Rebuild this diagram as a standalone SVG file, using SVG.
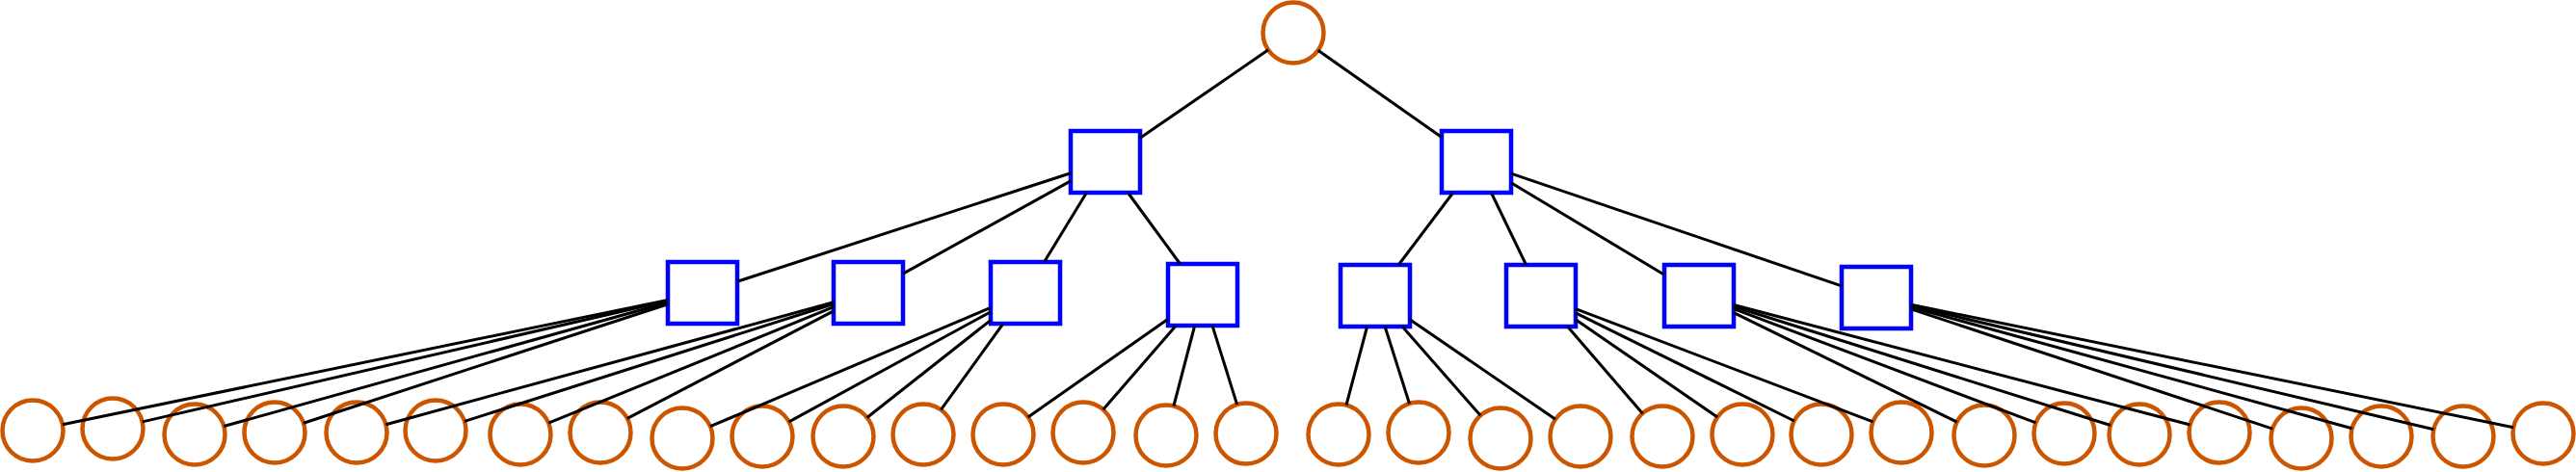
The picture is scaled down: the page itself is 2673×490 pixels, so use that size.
<svg xmlns="http://www.w3.org/2000/svg" width="2673" height="490" viewBox="0 0 2673 490">
<style>
.e{stroke:#000;stroke-width:3;fill:none}
.c{fill:#fff;stroke:#cc5500;stroke-width:4.5}
.s{fill:#fff;stroke:#0000ff;stroke-width:4.5}
</style>
<rect x="0" y="0" width="2673" height="490" fill="#fff"/>
<g id="root"><circle class="c" cx="1342" cy="34" r="31.5"/></g>
<g id="n1"><rect class="s" x="1111" y="136" width="72" height="64"/></g>
<g id="n2"><rect class="s" x="1496" y="136" width="72" height="64"/></g>
<g id="n1a"><rect class="s" x="693" y="272" width="72" height="64"/></g>
<g id="n1b"><rect class="s" x="865" y="272" width="72" height="64"/></g>
<g id="n1c"><rect class="s" x="1028" y="272" width="72" height="64"/></g>
<g id="n1d"><rect class="s" x="1212" y="274" width="72" height="64"/></g>
<g id="n2a"><rect class="s" x="1391" y="275" width="72" height="64"/></g>
<g id="n2b"><rect class="s" x="1563" y="275" width="72" height="64"/></g>
<g id="n2c"><rect class="s" x="1727" y="275" width="72" height="64"/></g>
<g id="n2d"><rect class="s" x="1911" y="277" width="72" height="64"/></g>
<g id="leaf1"><circle class="c" cx="34" cy="447" r="31.5"/></g>
<g id="leaf2"><circle class="c" cx="117" cy="445" r="31.5"/></g>
<g id="leaf3"><circle class="c" cx="202" cy="451" r="31.5"/></g>
<g id="leaf4"><circle class="c" cx="285" cy="449" r="31.5"/></g>
<g id="leaf5"><circle class="c" cx="370" cy="449" r="31.5"/></g>
<g id="leaf6"><circle class="c" cx="452" cy="447" r="31.5"/></g>
<g id="leaf7"><circle class="c" cx="540" cy="451" r="31.5"/></g>
<g id="leaf8"><circle class="c" cx="623" cy="449" r="31.5"/></g>
<g id="leaf9"><circle class="c" cx="708" cy="455" r="31.5"/></g>
<g id="leaf10"><circle class="c" cx="791" cy="453" r="31.5"/></g>
<g id="leaf11"><circle class="c" cx="875" cy="453" r="31.5"/></g>
<g id="leaf12"><circle class="c" cx="958" cy="451" r="31.5"/></g>
<g id="leaf13"><circle class="c" cx="1041" cy="451" r="31.5"/></g>
<g id="leaf14"><circle class="c" cx="1124" cy="449" r="31.5"/></g>
<g id="leaf15"><circle class="c" cx="1210" cy="452" r="31.5"/></g>
<g id="leaf16"><circle class="c" cx="1293" cy="450" r="31.5"/></g>
<g id="leaf17"><circle class="c" cx="1389" cy="451" r="31.5"/></g>
<g id="leaf18"><circle class="c" cx="1472" cy="449" r="31.5"/></g>
<g id="leaf19"><circle class="c" cx="1557" cy="455" r="31.5"/></g>
<g id="leaf20"><circle class="c" cx="1640" cy="453" r="31.5"/></g>
<g id="leaf21"><circle class="c" cx="1725" cy="453" r="31.5"/></g>
<g id="leaf22"><circle class="c" cx="1808" cy="451" r="31.5"/></g>
<g id="leaf23"><circle class="c" cx="1890" cy="451" r="31.5"/></g>
<g id="leaf24"><circle class="c" cx="1973" cy="449" r="31.5"/></g>
<g id="leaf25"><circle class="c" cx="2059" cy="452" r="31.5"/></g>
<g id="leaf26"><circle class="c" cx="2142" cy="450" r="31.5"/></g>
<g id="leaf27"><circle class="c" cx="2220" cy="451" r="31.5"/></g>
<g id="leaf28"><circle class="c" cx="2303" cy="449" r="31.5"/></g>
<g id="leaf29"><circle class="c" cx="2388" cy="455" r="31.5"/></g>
<g id="leaf30"><circle class="c" cx="2471" cy="453" r="31.5"/></g>
<g id="leaf31"><circle class="c" cx="2556" cy="453" r="31.5"/></g>
<g id="leaf32"><circle class="c" cx="2639" cy="450" r="31.5"/></g>
<g id="connectors" class="e">
<line x1="1316" y1="51.8" x2="1183" y2="143.3"/>
<line x1="1367.7" y1="52.2" x2="1496" y2="142.6"/>
<line x1="1111" y1="179.7" x2="765" y2="292.3"/>
<line x1="1111" y1="187.9" x2="937" y2="284.1"/>
<line x1="1127.5" y1="200" x2="1083.5" y2="272"/>
<line x1="1170.4" y1="200" x2="1224.6" y2="274"/>
<line x1="1507.8" y1="200" x2="1451.2" y2="275"/>
<line x1="1547.4" y1="200" x2="1583.6" y2="275"/>
<line x1="1568" y1="189.7" x2="1727" y2="285.3"/>
<line x1="1568" y1="180.2" x2="1911" y2="296.8"/>
<line x1="693" y1="311.4" x2="64.9" y2="440.7"/>
<line x1="693" y1="312.3" x2="147.7" y2="437.9"/>
<line x1="693" y1="314" x2="232.3" y2="442.5"/>
<line x1="693" y1="315.8" x2="314.9" y2="439.2"/>
<line x1="865" y1="313.8" x2="400.4" y2="440.7"/>
<line x1="865" y1="315.5" x2="482" y2="437.4"/>
<line x1="865" y1="318.7" x2="569.2" y2="439.1"/>
<line x1="865" y1="322.8" x2="650.9" y2="434.4"/>
<line x1="1028" y1="319.3" x2="737" y2="442.7"/>
<line x1="1028" y1="323.7" x2="818.7" y2="437.9"/>
<line x1="1028" y1="332.4" x2="899.7" y2="433.5"/>
<line x1="1040.9" y1="336" x2="976.4" y2="425.4"/>
<line x1="1212" y1="331.2" x2="1066.8" y2="432.9"/>
<line x1="1220.3" y1="338" x2="1144.6" y2="425.2"/>
<line x1="1239.7" y1="338" x2="1217.9" y2="421.5"/>
<line x1="1258" y1="338" x2="1283.6" y2="419.9"/>
<line x1="1418.6" y1="339" x2="1397" y2="420.5"/>
<line x1="1437.1" y1="339" x2="1462.5" y2="419"/>
<line x1="1455.1" y1="339" x2="1536.2" y2="431.3"/>
<line x1="1463" y1="331.7" x2="1614" y2="435.2"/>
<line x1="1626.6" y1="339" x2="1704.4" y2="429.2"/>
<line x1="1635" y1="331.8" x2="1782.1" y2="433.1"/>
<line x1="1635" y1="324.8" x2="1861.8" y2="437"/>
<line x1="1635" y1="320.7" x2="1943.5" y2="437.8"/>
<line x1="1799" y1="324.6" x2="2030.7" y2="438.1"/>
<line x1="1799" y1="320.6" x2="2112.5" y2="438.9"/>
<line x1="1799" y1="318.3" x2="2190" y2="441.5"/>
<line x1="1799" y1="316.5" x2="2272.5" y2="441"/>
<line x1="1983" y1="320.9" x2="2358.1" y2="445.1"/>
<line x1="1983" y1="318.9" x2="2440.6" y2="444.7"/>
<line x1="1983" y1="317.5" x2="2525.3" y2="445.8"/>
<line x1="1983" y1="316.3" x2="2608.1" y2="443.7"/>
</g>
</svg>
